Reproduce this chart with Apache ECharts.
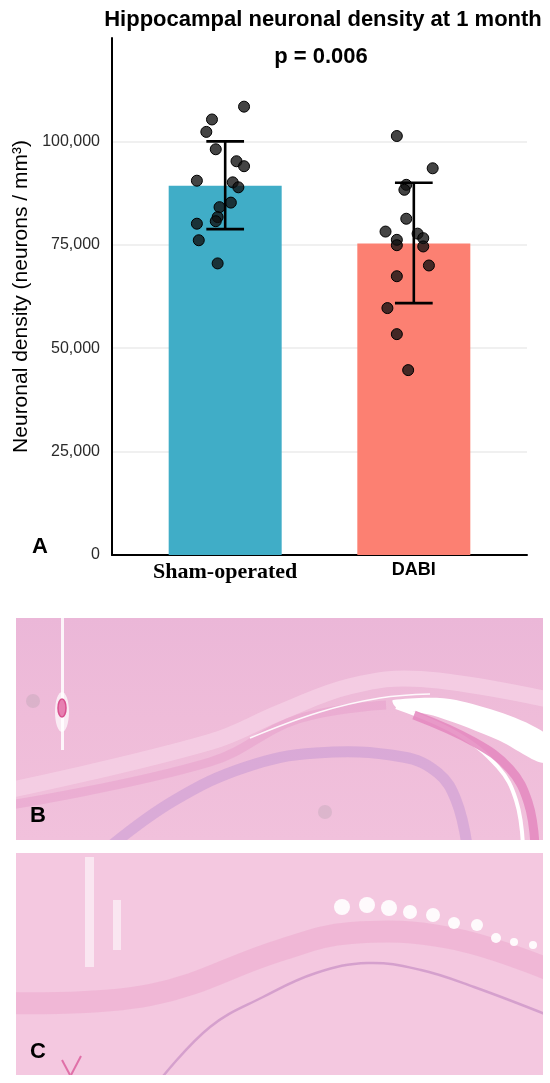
<!DOCTYPE html>
<html>
<head>
<meta charset="utf-8">
<script src="https://cdn.jsdelivr.net/npm/echarts@6/dist/echarts.min.js"></script>
<style>
  html, body { margin: 0; padding: 0; background: #fff; }
  #chart { width: 550px; height: 1083px; }
</style>
</head>
<body>
<div id="chart"></div>
<script>
// group labels and summary values
var groups = ['Sham-operated', 'DABI'];
var groupX = [1, 2];
var groupMeans = [89300, 75300];
var errLow = [78800, 60900];
var errHigh = [100000, 90000];
var barColors = ['#40adc7', '#fc8072'];

// individual animals (value, jittered x position)
var shamValues = [108400, 105300, 102300, 98100, 95200, 94000, 90500, 90100,
                  88900, 85200, 84100, 81700, 80700, 80100, 76100, 70500];
var shamJitter = [1.10, 0.93, 0.90, 0.95, 1.06, 1.10, 0.85, 1.04,
                  1.07, 1.03, 0.97, 0.96, 0.95, 0.85, 0.86, 0.96];
var dabiValues = [101300, 93500, 89500, 88300, 81300, 78200, 77700, 76600,
                  76200, 74900, 74600, 70000, 67400, 59700, 53400, 44700];
var dabiJitter = [1.91, 2.10, 1.96, 1.95, 1.96, 1.85, 2.02, 2.05,
                  1.91, 1.91, 2.05, 2.08, 1.91, 1.86, 1.91, 1.97];

var yTickStep = 25000;
var yMax = 125000;

var myChart = echarts.init(document.getElementById('chart'));

var barData = groupX.map(function (x, i) {
    return { value: [x, groupMeans[i]], itemStyle: { color: barColors[i] } };
});
var errData = groupX.map(function (x, i) {
    return [x, errLow[i], errHigh[i]];
});
var pointData = [];
shamValues.forEach(function (v, i) { pointData.push([shamJitter[i], v]); });
dabiValues.forEach(function (v, i) { pointData.push([dabiJitter[i], v]); });

function renderErrorBar(params, api) {
    var x = api.value(0);
    var lo = api.coord([x, api.value(1)]);
    var hi = api.coord([x, api.value(2)]);
    var half = api.size([0.1, 0])[0];
    var st = { stroke: '#000', lineWidth: 2.6 };
    return {
        type: 'group',
        children: [
            { type: 'line', shape: { x1: lo[0], y1: lo[1], x2: hi[0], y2: hi[1] }, style: st },
            { type: 'line', shape: { x1: hi[0] - half, y1: hi[1], x2: hi[0] + half, y2: hi[1] }, style: st },
            { type: 'line', shape: { x1: lo[0] - half, y1: lo[1], x2: lo[0] + half, y2: lo[1] }, style: st }
        ]
    };
}

// rough drawing of the two histology sections (B, C)
function smoothLine(pts, color, width) {
    return { type: 'polyline', shape: { points: pts, smooth: 0.4 },
             style: { stroke: color, lineWidth: width, fill: null }, silent: true };
}
function panelText(t, x, y) {
    return { type: 'text', style: { text: t, x: x, y: y, textAlign: 'center', textVerticalAlign: 'middle',
             font: 'bold 22px "Liberation Sans", Arial, sans-serif', fill: '#000' } };
}
var panelB = [
    { type: 'rect', shape: { x: 16, y: 618, width: 527, height: 222 },
      style: { fill: new echarts.graphic.LinearGradient(0, 0, 0, 1, [
          { offset: 0, color: '#ebb7d8' }, { offset: 0.45, color: '#efbcd9' }, { offset: 1, color: '#f1c1dc' }]) } },
    smoothLine([[10, 790], [210, 742], [281, 712], [351, 686], [421, 679], [550, 700]], 'rgba(246,210,230,0.75)', 16),
    smoothLine([[10, 805], [210, 762], [298, 719], [386, 705]], 'rgba(232,160,204,0.55)', 9),
    smoothLine([[250, 738], [320, 712], [380, 698], [430, 694]], 'rgba(255,255,255,0.9)', 1.5),
    { type: 'polygon', shape: { points: [[393, 700], [456, 700], [545, 733], [545, 763], [498, 740], [438, 717], [396, 707]], smooth: 0.3 },
      style: { fill: '#ffffff' } },
    smoothLine([[396, 707], [456, 733], [498, 767], [516, 800], [523, 845]], '#ffffff', 4),
    smoothLine([[414, 715], [474, 742], [510, 769], [528, 802], [535, 845]], 'rgba(228,135,190,0.85)', 9),
    smoothLine([[112, 845], [175, 800], [246, 767], [316, 753], [403, 757], [438, 773], [456, 800], [467, 845]], 'rgba(196,150,212,0.5)', 11),
    { type: 'rect', shape: { x: 61, y: 618, width: 3, height: 132 }, style: { fill: 'rgba(255,255,255,0.85)' } },
    { type: 'ellipse', shape: { cx: 62, cy: 712, rx: 7, ry: 20 }, style: { fill: 'rgba(255,255,255,0.7)' } },
    { type: 'ellipse', shape: { cx: 62, cy: 708, rx: 4, ry: 9 }, style: { fill: '#e77fb1', stroke: '#d9508f', lineWidth: 1.5 } },
    { type: 'circle', shape: { cx: 33, cy: 701, r: 7 }, style: { fill: 'rgba(160,150,160,0.25)' } },
    { type: 'circle', shape: { cx: 325, cy: 812, r: 7 }, style: { fill: 'rgba(160,150,160,0.25)' } }
];
var blobs = [[342, 907, 8], [367, 905, 8], [389, 908, 8], [410, 912, 7], [433, 915, 7],
             [454, 923, 6], [477, 925, 6], [496, 938, 5], [514, 942, 4], [533, 945, 4]];
var panelC = [
    { type: 'rect', shape: { x: 16, y: 853, width: 527, height: 222 }, style: { fill: '#f4c8e0' } },
    smoothLine([[8, 1003], [150, 995], [281, 950], [351, 933], [450, 938], [550, 970]], 'rgba(236,170,206,0.55)', 22),
    smoothLine([[160, 1080], [210, 1027], [263, 997], [316, 973], [368, 963], [421, 970], [474, 987], [550, 1016]], 'rgba(205,150,200,0.8)', 2.5),
    { type: 'rect', shape: { x: 85, y: 857, width: 9, height: 110 }, style: { fill: 'rgba(255,255,255,0.55)' } },
    { type: 'rect', shape: { x: 113, y: 900, width: 8, height: 50 }, style: { fill: 'rgba(255,255,255,0.55)' } },
    { type: 'line', shape: { x1: 62, y1: 1060, x2: 70, y2: 1075 }, style: { stroke: '#e070a8', lineWidth: 2 } },
    { type: 'line', shape: { x1: 81, y1: 1056, x2: 71, y2: 1075 }, style: { stroke: '#e070a8', lineWidth: 2 } }
];
blobs.forEach(function (b) {
    panelC.push({ type: 'circle', shape: { cx: b[0], cy: b[1], r: b[2] },
        style: { fill: 'rgba(255,255,255,0.9)' } });
});
// white margins trim whatever spills past the section borders
var masks = [
    { type: 'rect', shape: { x: 0, y: 600, width: 16, height: 483 }, style: { fill: '#fff' } },
    { type: 'rect', shape: { x: 543, y: 600, width: 7, height: 483 }, style: { fill: '#fff' } },
    { type: 'rect', shape: { x: 0, y: 840, width: 550, height: 13 }, style: { fill: '#fff' } },
    { type: 'rect', shape: { x: 0, y: 1075, width: 550, height: 8 }, style: { fill: '#fff' } },
    panelText('B', 38, 816),
    panelText('C', 38, 1052)
];

option = {
    backgroundColor: '#fff',
    animation: false,
    title: [{
        text: 'Hippocampal neuronal density at 1 month',
        left: 318,
        top: 4,
        textAlign: 'center',
        textStyle: { fontSize: 22, fontWeight: 'bold', color: '#000', fontFamily: 'Liberation Sans' }
    }, {
        text: 'p = 0.006',
        left: 316,
        top: 41,
        textAlign: 'center',
        textStyle: { fontSize: 22, fontWeight: 'bold', color: '#000', fontFamily: 'Liberation Sans' }
    }],
    grid: {
        left: 112,
        right: 23,
        top: 38,
        bottom: 528
    },
    xAxis: {
        type: 'value',
        min: 0.4,
        max: 2.6,
        splitLine: { show: false },
        axisTick: { show: false },
        axisLine: { show: true, lineStyle: { color: '#000', width: 2 } },
        axisLabel: {
            customValues: groupX,
            margin: 6,
            formatter: function (v) {
                return v === 1 ? '{sham|' + groups[0] + '}' : '{dabi|' + groups[1] + '}';
            },
            rich: {
                sham: { fontFamily: 'Liberation Serif', fontWeight: 'bold', fontSize: 22, color: '#000' },
                dabi: { fontFamily: 'Liberation Sans', fontWeight: 'bold', fontSize: 18, color: '#000' }
            }
        }
    },
    yAxis: {
        type: 'value',
        min: 0,
        max: yMax,
        interval: yTickStep,
        name: 'Neuronal density (neurons / mm³)',
        nameLocation: 'middle',
        nameRotate: 90,
        nameGap: 80,
        nameTextStyle: { fontSize: 21, color: '#000', fontFamily: 'Liberation Sans' },
        axisLine: { show: true, lineStyle: { color: '#000', width: 2 } },
        axisTick: { show: false },
        axisLabel: {
            showMaxLabel: false,
            margin: 12,
            fontSize: 16,
            color: '#2a2a2a',
            fontFamily: 'Liberation Sans',
            formatter: function (v) { return v.toLocaleString('en-US'); }
        },
        splitLine: { show: true, showMaxLine: false, showMinLine: false, lineStyle: { color: '#ebebeb', width: 1.5 } }
    },
    graphic: [
        panelText('A', 40, 547),
        { type: 'group', children: panelB },
        { type: 'group', children: panelC },
        { type: 'group', children: masks }
    ],
    series: [
        {
            name: 'mean',
            type: 'bar',
            barWidth: 113,
            data: barData,
            z: 1
        },
        {
            name: 'animals',
            type: 'scatter',
            symbolSize: 11,
            itemStyle: { color: 'rgba(15,15,15,0.78)', borderColor: '#000', borderWidth: 1, opacity: 1 },
            data: pointData,
            z: 3
        },
        {
            name: 'sd',
            type: 'custom',
            renderItem: renderErrorBar,
            data: errData,
            z: 4
        }
    ]
};
myChart.setOption(option);
</script>
</body>
</html>
